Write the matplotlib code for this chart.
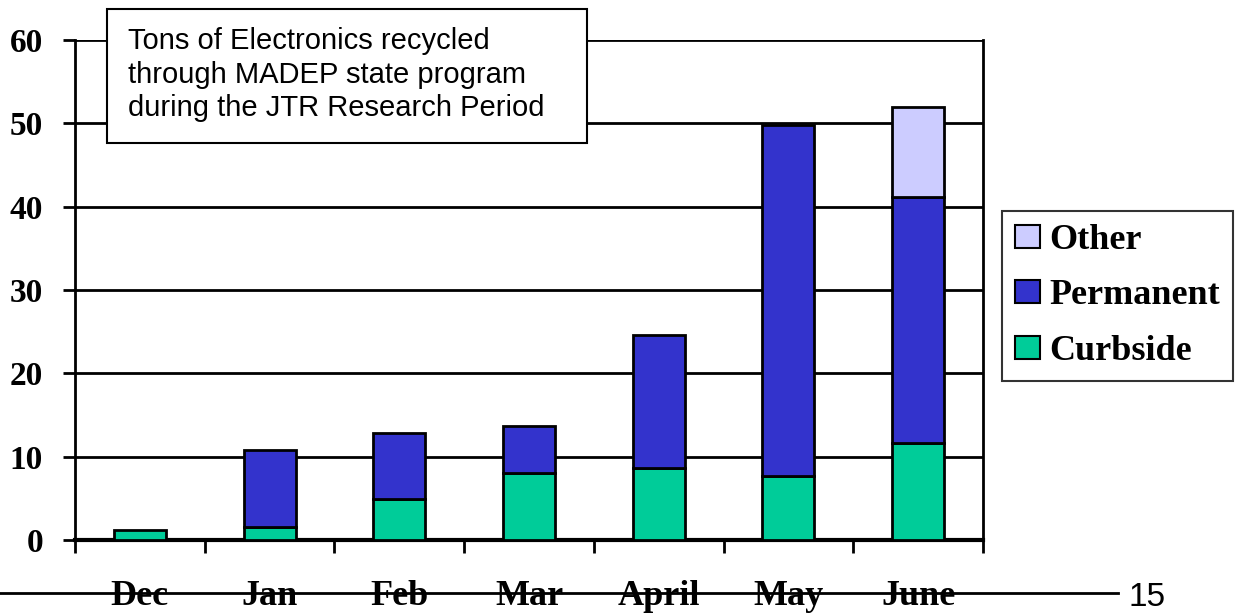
import numpy as np
import matplotlib
matplotlib.use('Agg')
import matplotlib.pyplot as plt
from matplotlib.patches import Patch, Rectangle
from matplotlib.lines import Line2D

months = ['Dec', 'Jan', 'Feb', 'Mar', 'April', 'May', 'June']
curbside = [1.2, 1.6, 4.9, 8.1, 8.7, 7.7, 11.7]
permanent = [0.0, 9.2, 7.9, 5.6, 15.9, 42.1, 29.5]
other = [0.0, 0.0, 0.0, 0.0, 0.0, 0.0, 10.8]
yticks = [0, 10, 20, 30, 40, 50, 60]
title_lines = ['Tons of Electronics recycled',
               'through MADEP state program',
               'during the JTR Research Period']
page_no = '15'

col_curb = '#00CC99'
col_perm = '#3333CC'
col_other = '#CCCCFF'

W, H = 1241, 613
fig = plt.figure(figsize=(W / 100, H / 100), dpi=100)
ax = fig.add_axes([75 / W, 1 - 540 / H, (983 - 75) / W, 500 / H])

x = np.arange(len(months))
cb = np.array(curbside)
pm = np.array(permanent)
ot = np.array(other)

# stacked bars, drawn only where the segment has a value
def bars(vals, bottom, color):
    m = vals > 0
    ax.bar(x[m], vals[m], bottom=bottom[m], width=0.4, color=color,
           edgecolor='black', linewidth=2, zorder=3)

bars(cb, np.zeros_like(cb), col_curb)
bars(pm, cb, col_perm)
bars(ot, cb + pm, col_other)

ax.set_xlim(-0.5, len(months) - 0.5)
ax.set_ylim(0, 60)
ax.set_yticks(yticks)
ax.set_yticklabels([str(v) for v in yticks], fontfamily='Liberation Serif',
                   fontweight='bold', fontsize=24)
ax.tick_params(axis='y', length=9, width=2, pad=14)
for v in yticks[1:]:
    ax.axhline(v, color='black', linewidth=2, zorder=1)

# category boundaries as major ticks, names as minor ticks
ax.set_xticks(np.arange(len(months) + 1) - 0.5)
ax.set_xticklabels([])
ax.tick_params(axis='x', which='major', length=9, width=2, direction='out')
ax.set_xticks(x, minor=True)
ax.set_xticklabels(months, minor=True, fontfamily='Liberation Serif',
                   fontweight='bold', fontsize=26)
ax.tick_params(axis='x', which='minor', length=0, pad=29)

ax.spines['top'].set_visible(False)
ax.spines['left'].set_linewidth(2)
ax.spines['right'].set_linewidth(2)
ax.spines['bottom'].set_linewidth(3)

# legend
handles = [Patch(facecolor=col_other, edgecolor='black', linewidth=1.5, label='Other'),
           Patch(facecolor=col_perm, edgecolor='black', linewidth=1.5, label='Permanent'),
           Patch(facecolor=col_curb, edgecolor='black', linewidth=1.5, label='Curbside')]
leg = fig.legend(handles=handles, loc='upper left', bbox_to_anchor=(1002 / W, 1 - 211 / H),
                 prop={'family': 'Liberation Serif', 'weight': 'bold', 'size': 26},
                 frameon=True, fancybox=False, edgecolor='black', handlelength=0.7,
                 handleheight=0.6, handletextpad=0.25, borderpad=0.36, labelspacing=0.62,
                 borderaxespad=0)
leg.get_frame().set_linewidth(1.5)

# title box
fig.patches.append(Rectangle((107 / W, 1 - 143 / H), (587 - 107) / W, 134 / H,
                             transform=fig.transFigure, facecolor='white',
                             edgecolor='black', linewidth=1.5, zorder=2))
fig.text(128 / W, 1 - 27 / H, '\n'.join(title_lines), fontfamily='Liberation Sans',
         fontsize=21, ha='left', va='top', linespacing=1.26, zorder=3)

# slide footer line and page number
fig.add_artist(Line2D([0, 1118 / W], [1 - 593 / H, 1 - 593 / H], color='black',
                      linewidth=2, transform=fig.transFigure, zorder=0))
fig.text(1147 / W, 1 - 598 / H, page_no, fontfamily='Liberation Sans', fontsize=24,
         ha='center', va='center')

fig.savefig('out.png', dpi=100)
